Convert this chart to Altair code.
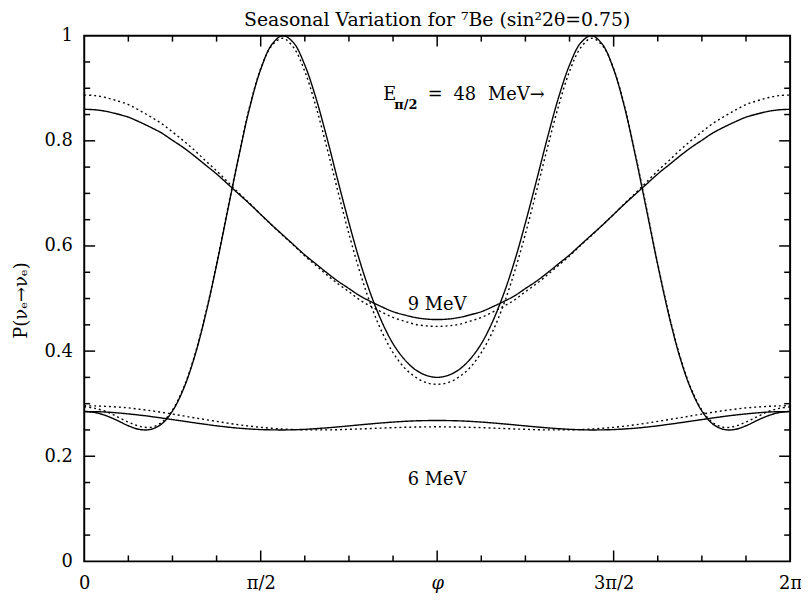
import math
import altair as alt
import pandas as pd

# ---------------- data ----------------
# phi sampled every pi/32 from 0 to pi (the figure is symmetric about phi = pi)
N_STEPS = 32

# E_{pi/2} = 48 MeV curve (narrow peaks)
E48_SOLID = [0.285, 0.283, 0.277, 0.268, 0.258, 0.251, 0.251, 0.261, 0.286, 0.328, 0.389,
             0.469, 0.564, 0.667, 0.769, 0.863, 0.936, 0.983, 1.000, 0.986, 0.944, 0.882,
             0.806, 0.724, 0.644, 0.570, 0.507, 0.455, 0.414, 0.385, 0.365, 0.354, 0.350]
E48_DOTTED = [0.294, 0.291, 0.285, 0.275, 0.265, 0.257, 0.255, 0.264, 0.288, 0.330, 0.391,
              0.471, 0.566, 0.670, 0.771, 0.865, 0.937, 0.981, 0.995, 0.977, 0.932, 0.866,
              0.787, 0.704, 0.623, 0.550, 0.487, 0.436, 0.397, 0.369, 0.351, 0.340, 0.337]
# 9 MeV curve (broad)
E9_SOLID = [0.860, 0.859, 0.856, 0.851, 0.845, 0.836, 0.826, 0.815, 0.801, 0.787, 0.771,
            0.754, 0.737, 0.718, 0.699, 0.680, 0.660, 0.640, 0.621, 0.602, 0.583, 0.566,
            0.549, 0.533, 0.519, 0.505, 0.494, 0.484, 0.475, 0.469, 0.464, 0.461, 0.460]
E9_DOTTED = [0.887, 0.886, 0.882, 0.876, 0.869, 0.858, 0.846, 0.833, 0.817, 0.800, 0.782,
             0.762, 0.743, 0.722, 0.701, 0.681, 0.660, 0.640, 0.620, 0.601, 0.581, 0.563,
             0.545, 0.528, 0.513, 0.497, 0.485, 0.474, 0.464, 0.457, 0.451, 0.448, 0.447]
# 6 MeV curve (nearly flat)
E6_SOLID = [0.285, 0.2848, 0.284, 0.2825, 0.2805, 0.2783, 0.2757, 0.2728, 0.2697, 0.2667, 0.2636,
            0.2607, 0.2579, 0.2555, 0.2534, 0.2519, 0.2507, 0.2502, 0.250, 0.2504, 0.2512, 0.2525,
            0.2540, 0.2558, 0.2577, 0.2597, 0.2616, 0.2634, 0.2650, 0.2663, 0.2673, 0.2678, 0.268]
E6_DOTTED = [0.296, 0.2957, 0.2949, 0.2936, 0.2920, 0.2895, 0.2868, 0.2836, 0.2802, 0.2767, 0.2731,
             0.2697, 0.2663, 0.2630, 0.2599, 0.2573, 0.2550, 0.2532, 0.2517, 0.2508, 0.2502, 0.2501,
             0.2501, 0.2505, 0.2512, 0.2519, 0.2527, 0.2536, 0.2544, 0.2550, 0.2555, 0.2558, 0.256]

X_TICK_VALUES = [0, math.pi / 2, math.pi, 3 * math.pi / 2, 2 * math.pi]
X_TICK_LABELS = ["0", "π/2", "φ", "3π/2", "2π"]
Y_TICK_VALUES = [0, 0.2, 0.4, 0.6, 0.8, 1.0]
Y_TICK_LABELS = ["0", "0.2", "0.4", "0.6", "0.8", "1"]

TITLE = "Seasonal Variation for ⁷Be (sin²2θ=0.75)"
Y_TITLE = "P(νₑ→νₑ)"

# ---------------- build table ----------------
def full(half):
    return half + half[-2::-1]

rows = []
for name, style, half in [("48", "solid", E48_SOLID), ("48", "dotted", E48_DOTTED),
                          ("9", "solid", E9_SOLID), ("9", "dotted", E9_DOTTED),
                          ("6", "solid", E6_SOLID), ("6", "dotted", E6_DOTTED)]:
    vals = full(half)
    for i, p in enumerate(vals):
        rows.append({"phi": i * math.pi / N_STEPS, "P": p, "curve": name + style, "style": style})
df = pd.DataFrame(rows)

W, H = 713, 531
FONT = "DejaVu Serif"
FS = 18

xs = alt.Scale(domain=[0, 2 * math.pi], nice=False, zero=False)
ys = alt.Scale(domain=[0, 1], nice=False, zero=False)

x_label_expr = " : ".join(
    f"abs(datum.value - {v:.5f}) < 0.01 ? '{t}'" for v, t in zip(X_TICK_VALUES, X_TICK_LABELS)
) + " : ''"
y_label_expr = " : ".join(
    f"abs(datum.value - {v}) < 0.001 ? '{t}'" for v, t in zip(Y_TICK_VALUES, Y_TICK_LABELS)
) + " : ''"

X_AXIS = alt.Axis(values=X_TICK_VALUES, labelExpr=x_label_expr, title=None,
                  ticks=False, domain=False, grid=False, labelFont=FONT,
                  labelFontSize=FS, labelPadding=13, labelColor="black", labelFlush=False,
                  labelFontStyle={"condition": {"test": "abs(datum.value - 3.14159) < 0.01",
                                                "value": "italic"}, "value": "normal"})
Y_AXIS = alt.Axis(values=Y_TICK_VALUES, labelExpr=y_label_expr, title=Y_TITLE,
                  ticks=False, domain=False, grid=False, labelFont=FONT,
                  labelFontSize=FS, labelPadding=12, labelColor="black", labelFlush=False,
                  titleFont=FONT, titleFontSize=FS, titleFontWeight="normal",
                  titleColor="black", titleX=-63, titleY=267, titleBaseline="middle",
                  titleAlign="center", titleAngle=270)

def X(field):
    return alt.X(field, scale=xs, axis=X_AXIS)

def Y(field):
    return alt.Y(field, scale=ys, axis=Y_AXIS)

lines = alt.Chart(df).mark_line(color="black", strokeWidth=1.4, interpolate="catmull-rom").encode(
    x=X("phi:Q"),
    y=Y("P:Q"),
    detail="curve:N",
    strokeDash=alt.StrokeDash("style:N", scale=alt.Scale(domain=["solid", "dotted"],
                                                          range=[[1, 0], [2, 3]]), legend=None),
    order="phi:Q",
)

# tick marks drawn inward on all four sides
x_minor = [k * math.pi / 8 for k in range(1, 16) if k % 4 != 0]
x_major = [k * math.pi / 8 for k in range(1, 16) if k % 4 == 0]
y_minor = [k * 0.05 for k in range(1, 20) if k % 4 != 0]
y_major = [k * 0.05 for k in range(1, 20) if k % 4 == 0]

def xticks(vals, length):
    d = pd.DataFrame({"phi": vals})
    b = alt.Chart(d).mark_rule(color="black", strokeWidth=1.5).encode(
        x=X("phi:Q"), y=alt.value(H), y2=alt.value(H - length))
    t = alt.Chart(d).mark_rule(color="black", strokeWidth=1.5).encode(
        x=X("phi:Q"), y=alt.value(0), y2=alt.value(length))
    return [b, t]

def yticks(vals, length):
    d = pd.DataFrame({"P": vals})
    l = alt.Chart(d).mark_rule(color="black", strokeWidth=1.5).encode(
        y=Y("P:Q"), x=alt.value(0), x2=alt.value(length))
    r = alt.Chart(d).mark_rule(color="black", strokeWidth=1.5).encode(
        y=Y("P:Q"), x=alt.value(W), x2=alt.value(W - length))
    return [l, r]

tick_layers = xticks(x_minor, 6) + xticks(x_major, 11) + yticks(y_minor, 6) + yticks(y_major, 11)

# annotations (data coordinates)
def label(text, phi, p, size, align="left", weight="normal"):
    d = pd.DataFrame({"phi": [phi], "P": [p], "t": [text]})
    return alt.Chart(d).mark_text(font=FONT, fontSize=size, align=align, baseline="alphabetic",
                                  color="black", fontWeight=weight).encode(
        x=X("phi:Q"), y=Y("P:Q"), text="t:N")

annots = [
    label("E", 2.661, 0.878, 18),
    label("π/2", 2.76, 0.861, 13, weight="bold"),
    label("=", 3.058, 0.878, 18),
    label("48", 3.287, 0.878, 18),
    label("MeV→", 3.595, 0.878, 18),
    label("9 MeV", math.pi, 0.478, 18, "center"),
    label("6 MeV", math.pi, 0.145, 18, "center"),
]

chart = alt.layer(lines, *tick_layers, *annots).properties(
    width=W, height=H,
    title=alt.TitleParams(TITLE, font=FONT, fontSize=19, fontWeight="normal", color="black",
                          anchor="middle", offset=5, dy=8),
    autosize=alt.AutoSizeParams(type="none"),
    padding={"left": 77, "top": 25, "right": 11, "bottom": 31},
    background="white",
).configure_view(stroke="black", strokeWidth=2)

chart.save("out.html", embed_options={"renderer": "svg", "actions": False})
